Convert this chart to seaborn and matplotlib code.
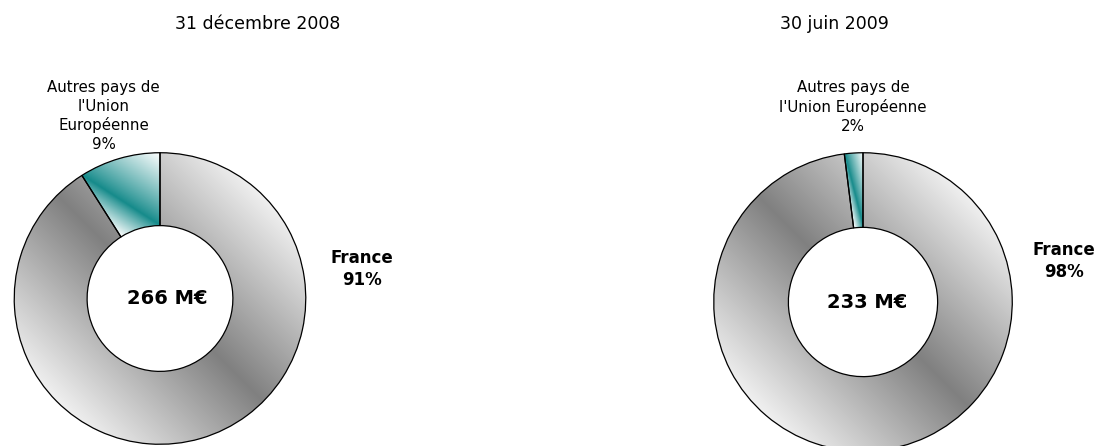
import numpy as np
import matplotlib
matplotlib.use("Agg")
import matplotlib.pyplot as plt
import seaborn as sns

# ---------------- data ----------------
titles = ["31 décembre 2008", "30 juin 2009"]
categories = ["France", "Autres pays de l'Union Européenne"]
shares_2008 = [91, 9]
shares_2009 = [98, 2]
totals = ["266 M€", "233 M€"]
autres_names = ["Autres pays de\nl'Union\nEuropéenne", "Autres pays de\nl'Union Européenne"]

sns.set_theme(style="white")
plt.rcParams["font.family"] = ["DejaVu Sans"]

W, H = 1103, 446
fig = plt.figure(figsize=(W / 100, H / 100), dpi=100)
fig.patch.set_facecolor("white")


def fx(px):
    return px / W


def fy(py):
    return 1 - py / H


GRAY_DARK, GRAY_LIGHT = 0x80 / 255, 0xF0 / 255
TEAL = np.array([0, 128, 128]) / 255

N = 800
g = np.linspace(-1, 1, N)
X, Y = np.meshgrid(g, g[::-1])


def gray_gradient():
    # diagonal reflected gradient over the ring's bounding square
    s = np.clip(np.abs(X + Y) / np.sqrt(2), 0, 1)
    v = GRAY_DARK + (GRAY_LIGHT - GRAY_DARK) * s
    return np.dstack([v, v, v])


def teal_gradient(theta1, theta2, r_in, r_out):
    t1, t2 = np.deg2rad(theta1), np.deg2rad(theta2)
    A = np.array([np.cos(t2), np.sin(t2)]) * r_out   # outer corner at larger angle
    B = np.array([np.cos(t1), np.sin(t1)]) * r_in    # inner corner at smaller angle
    C = np.array([np.cos(t1), np.sin(t1)]) * r_out
    D = np.array([np.cos(t2), np.sin(t2)]) * r_in
    d = A - B
    n = np.array([-d[1], d[0]]) / np.hypot(*d)
    dist = (X - B[0]) * n[0] + (Y - B[1]) * n[1]
    dc = np.dot(C - B, n)
    dd = np.dot(D - B, n)
    s = np.where(np.sign(dist) == np.sign(dc), dist / dc, dist / dd)
    s = np.clip(s, 0, 1) ** 0.9
    s = 0.08 + 0.92 * s
    img = TEAL[None, None, :] * (1 - s[..., None]) + np.ones(3)[None, None, :] * s[..., None]
    return img


panels = [
    dict(values=shares_2008, center=(160, 298.5), R=146.5, title=titles[0],
         title_xy=(175, 24), title_ha="left", total=totals[0], total_xy=(167, 298),
         france_xy=(362, 269), autres_xy=(103.5, 116), autres=autres_names[0]),
    dict(values=shares_2009, center=(863, 302), R=150, title=titles[1],
         title_xy=(780, 24), title_ha="left", total=totals[1], total_xy=(867, 302),
         france_xy=(1064, 261), autres_xy=(853, 107), autres=autres_names[1]),
]

for p in panels:
    cx, cy = p["center"]
    R = p["R"]
    ax = fig.add_axes([fx(cx - R), fy(cy + R), 2 * R / W, 2 * R / H])
    wedges, _ = ax.pie(p["values"], startangle=90, counterclock=False, radius=1,
                       wedgeprops=dict(width=0.5, edgecolor="black", linewidth=0.9),
                       frame=True)
    ax.set_xlim(-1.005, 1.005)
    ax.set_ylim(-1.005, 1.005)
    ax.axis("off")
    for i, w in enumerate(wedges):
        w.set_facecolor("none")
        w.set_zorder(3)
        if i == 0:
            img = gray_gradient()
        else:
            th1, th2 = sorted([w.theta1, w.theta2])
            img = teal_gradient(th1, th2, w.r - w.width, w.r)
        im = ax.imshow(img, extent=[-1, 1, -1, 1], origin="upper", zorder=2,
                       interpolation="bilinear")
        im.set_clip_path(w)

    fig.text(fx(p["title_xy"][0]), fy(p["title_xy"][1]), p["title"], ha=p["title_ha"],
             va="center", fontsize=12.5, color="black")
    fig.text(fx(p["total_xy"][0]), fy(p["total_xy"][1]), p["total"], ha="center",
             va="center", fontsize=14, fontweight="bold", color="black")
    fig.text(fx(p["france_xy"][0]), fy(p["france_xy"][1]),
             f"{categories[0]}\n{p['values'][0]}%", ha="center", va="center",
             fontsize=12, fontweight="bold", color="black", linespacing=1.3)
    fig.text(fx(p["autres_xy"][0]), fy(p["autres_xy"][1]),
             f"{p['autres']}\n{p['values'][1]}%", ha="center", va="center",
             fontsize=10.8, color="black", linespacing=1.3)

fig.savefig("out.png", dpi=100, facecolor="white")
